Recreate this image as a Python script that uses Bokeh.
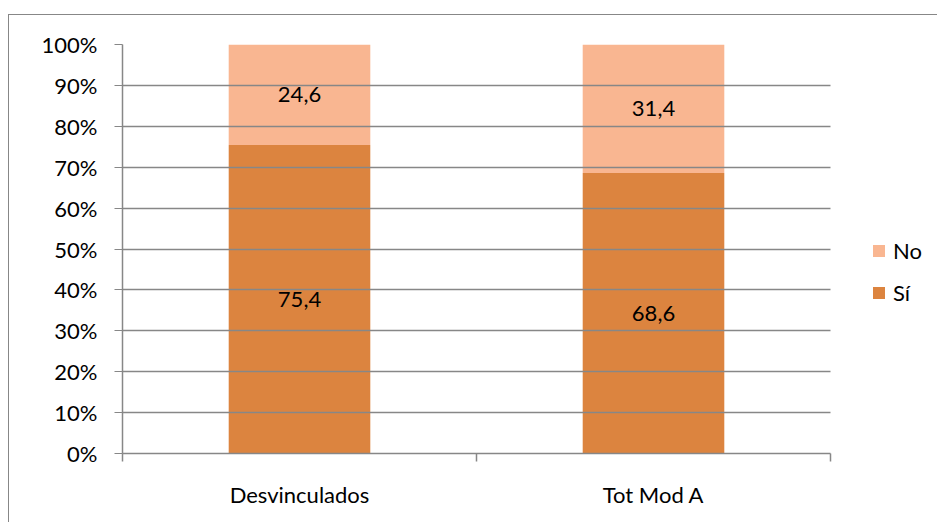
from bokeh.plotting import figure
from bokeh.models import (Range1d, FixedTicker, NumeralTickFormatter, Legend,
                          LegendItem, ColumnDataSource, BoxAnnotation)
from bokeh.core.properties import value
from bokeh.embed import file_html
from bokeh.resources import INLINE

categories = ["Desvinculados", "Tot Mod A"]
si_values = [75.4, 68.6]
no_values = [24.6, 31.4]
series_names = ["Sí", "No"]
si_labels = ["75,4", "68,6"]
no_labels = ["24,6", "31,4"]

SI_COLOR = "#DC843F"
NO_COLOR = "#F9B691"
GRID = "#878787"
FONT = "Lato"
FS = "22px"

FIG_W = 929
BORDER_L = 113
PLOT_W = 708  # width of the category area in pixels
FRAME_W = FIG_W - BORDER_L
n = len(categories)

xs = [i + 0.5 for i in range(n)]
si_frac = [v / 100 for v in si_values]
no_frac = [v / 100 for v in no_values]
src = ColumnDataSource(dict(
    x=xs,
    si_top=si_frac,
    no_top=[a + b for a, b in zip(si_frac, no_frac)],
    si_mid=[a / 2 for a in si_frac],
    no_mid=[a + b / 2 for a, b in zip(si_frac, no_frac)],
    si_lab=si_labels,
    no_lab=no_labels,
))

p = figure(width=FIG_W, height=508, output_backend="svg", toolbar_location=None,
           x_range=Range1d(0, n * FRAME_W / PLOT_W), y_range=Range1d(0, 1),
           min_border_left=BORDER_L, min_border_right=0, min_border_top=29,
           min_border_bottom=70)
p.margin = (14, 0, 0, 8)
p.styles = {"border-left": "1px solid " + GRID, "border-top": "1px solid " + GRID}
p.outline_line_color = None
p.background_fill_color = "white"
p.border_fill_color = "white"

r_si = p.vbar(x="x", bottom=0, top="si_top", width=0.4, source=src,
              fill_color=SI_COLOR, line_color=None)
r_no = p.vbar(x="x", bottom="si_top", top="no_top", width=0.4, source=src,
              fill_color=NO_COLOR, line_color=None)
r_si.level = "underlay"
r_no.level = "underlay"

p.text(x="x", y="si_mid", text="si_lab", source=src, text_align="center",
       text_baseline="middle", text_font=value(FONT), text_font_size=FS,
       text_color="black")
p.text(x="x", y="no_mid", text="no_lab", source=src, text_align="center",
       text_baseline="middle", text_font=value(FONT), text_font_size=FS,
       text_color="black")

# y axis
p.yaxis.ticker = FixedTicker(ticks=[i / 10 for i in range(11)], minor_ticks=[])
p.yaxis.formatter = NumeralTickFormatter(format="0%")
p.yaxis.axis_line_color = GRID
p.yaxis.axis_line_width = 1.5
p.yaxis.major_tick_line_color = GRID
p.yaxis.major_tick_out = 8
p.yaxis.major_tick_in = 0
p.yaxis.major_label_standoff = 17
p.yaxis.major_label_text_font = FONT
p.yaxis.major_label_text_font_size = FS
p.yaxis.major_label_text_color = "black"

# x axis (bounded to the category area)
p.xaxis.bounds = (0, n)
p.xaxis.ticker = FixedTicker(ticks=xs, minor_ticks=list(range(n + 1)))
p.xaxis.major_label_overrides = {x: c for x, c in zip(xs, categories)}
p.xaxis.axis_line_color = GRID
p.xaxis.axis_line_width = 1.5
p.xaxis.major_tick_line_color = None
p.xaxis.major_tick_out = 8
p.xaxis.major_tick_in = 0
p.xaxis.minor_tick_line_color = GRID
p.xaxis.minor_tick_line_width = 1.5
p.xaxis.minor_tick_out = 8
p.xaxis.minor_tick_in = 0
p.xaxis.major_label_standoff = 19
p.xaxis.major_label_text_font = FONT
p.xaxis.major_label_text_font_size = FS
p.xaxis.major_label_text_color = "black"

p.xgrid.grid_line_color = None
p.ygrid.grid_line_color = GRID
p.ygrid.grid_line_width = 1.5

# white mask so that gridlines stop at the end of the category area
mask = BoxAnnotation(left=n, fill_color="white", fill_alpha=1, line_color=None,
                     level="underlay")
p.add_layout(mask)

legend = Legend(items=[LegendItem(label=series_names[1], renderers=[r_no]),
                       LegendItem(label=series_names[0], renderers=[r_si])],
                location=(749, 147), orientation="vertical",
                glyph_width=15, glyph_height=15, label_height=15,
                spacing=15, label_standoff=7, padding=0, margin=0,
                border_line_color=None, background_fill_alpha=0,
                label_text_font=FONT, label_text_font_size=FS,
                label_text_color="black")
p.add_layout(legend, "center")

open("out.html", "w").write(file_html(p, INLINE))
